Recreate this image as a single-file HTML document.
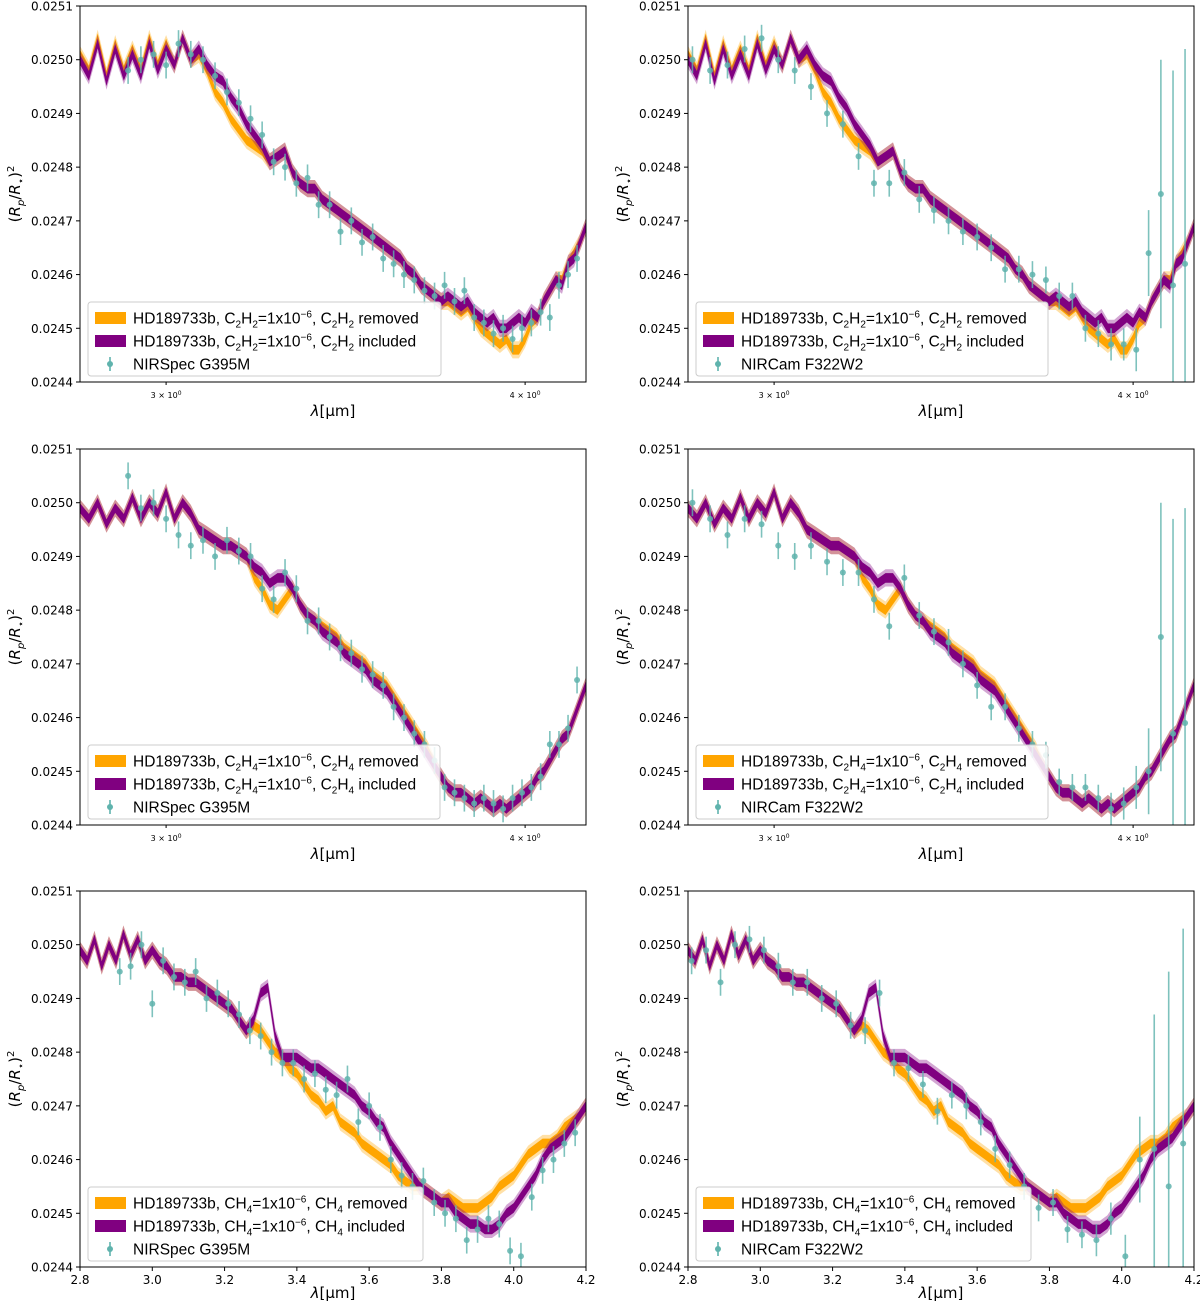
<!DOCTYPE html>
<html><head><meta charset="utf-8">
<style>
html,body{margin:0;padding:0;background:#fff;width:1200px;height:1306px;overflow:hidden;}
svg{display:block;font-family:"DejaVu Sans","Liberation Sans",sans-serif;}
</style></head>
<body>
<svg id="fig" width="1200" height="1306" viewBox="0 0 1200 1306" xmlns="http://www.w3.org/2000/svg"></svg>
<script>
// ---- data (values in units of 1e-5, i.e. 2500 = 0.02500) ----
const modelStart = 2.80, modelStep = 0.02;
const c2h2Included = [2500,2497,2503,2496,2502,2497,2501,2497,2503,2498,2502,2499,2504,2500,2502,2499,
 2497,2496,2493,2491,2488,2486,2484,2481,2482,2483,2479,2477,2476,2476,2474,2473,2472,2471,2470,2469,2468,2467,2466,2465,2464,2463,2461,2460,2458,2457,2456,2455,2456,2455,2454,2455,2453,2452,2451,2452,2450,2450,2451,2452,2451,2453,2452,2455,2457,2459,2458,2462,2463,2466,2469];
const c2h2Removed = [2501,2498,2504,2497,2503,2498,2502,2498,2504,2499,2503,2499,2504,2500,2501,2498,
 2494,2492,2489,2487,2485,2484,2483,2481,2482,2483,2479,2477,2476,2476,2474,2473,2472,2471,2470,2469,2468,2467,2466,2465,2464,2463,2461,2460,2458,2457,2456,2455,2455,2454,2453,2454,2452,2450,2449,2448,2447,2448,2446,2446,2448,2451,2452,2455,2457,2459,2459,2462,2464,2466,2469];
const c2h4Included = [2499,2497,2500,2496,2499,2497,2501,2497,2500,2498,2502,2497,2500,2498,
 2495,2494,2493,2492,2492,2491,2490,2488,2487,2485,2486,2486,2484,2481,2479,2478,2476,2475,2474,2472,2471,2470,2469,2467,2466,2465,2463,2461,2459,2457,2455,2453,2451,2449,2447,2446,2446,2445,2444,2445,2444,2443,2444,2443,2444,2445,2446,2447,2449,2450,2452,2454,2456,2457,2460,2463,2466];
const c2h4Removed = [2499,2497,2500,2496,2499,2497,2501,2497,2500,2498,2502,2497,2500,2498,
 2495,2494,2493,2492,2492,2491,2490,2486,2484,2481,2480,2482,2484,2481,2479,2478,2477,2476,2475,2473,2472,2471,2470,2468,2467,2466,2464,2462,2460,2458,2456,2454,2451,2449,2447,2446,2446,2445,2444,2445,2444,2443,2444,2443,2444,2445,2446,2447,2449,2450,2452,2454,2456,2457,2460,2463,2466];
const ch4Included = [2499,2497,2501,2496,2500,2497,2502,2498,2501,2497,2499,
 2497,2496,2494,2494,2493,2493,2492,2491,2490,2489,2488,2486,2484,2486,2491,2492,2483,2479,2479,2479,2478,2477,2477,2476,2475,2474,2473,2472,2470,2469,2467,2466,2463,2461,2459,2457,2455,2454,2453,2452,2452,2450,2449,2448,2448,2447,2447,2448,2450,2451,2453,2455,2457,2460,2462,2463,2464,2466,2468,2470];
const ch4Removed = [2499,2497,2501,2496,2500,2497,2502,2498,2501,2497,2499,
 2497,2496,2494,2494,2493,2493,2492,2491,2490,2489,2488,2486,2484,2485,2484,2482,2480,2479,2477,2476,2474,2472,2471,2469,2470,2467,2466,2465,2463,2462,2461,2460,2459,2457,2456,2455,2455,2454,2453,2452,2453,2452,2451,2451,2451,2452,2453,2455,2456,2457,2459,2461,2462,2463,2463,2464,2466,2467,2468,2470];

const nirspecLam = [2.91,2.94,2.97,3.00,3.03,3.06,3.09,3.12,3.15,3.18,3.21,3.24,3.27,3.30,3.33,3.36,3.39,3.42,3.45,3.48,3.51,3.54,3.57,3.60,3.63,3.66,3.69,3.72,3.75,3.78,3.81,3.84,3.87,3.90,3.93,3.96,3.99,4.02,4.05,4.08,4.11,4.14,4.17];
const nirspecErr = [2.5,2.5,2.5,2.5,2.5,2.5,2.5,2.5,2.5,2.5,2.5,2.5,2.5,2.5,2.5,2.5,2.5,2.5,2.5,2.5,2.5,2.5,2.5,2.5,2.5,2.5,2.5,2.5,2.5,2.5,2.5,2.5,2.5,2.5,2.5,2.5,2.5,2.5,2.5,2.5,2.5,2.5,2.5];
const nirspecC2H2 = [2498,2500,2501,2499,2503,2501,2500,2497,2494,2492,2489,2486,2481,2480,2477,2478,2473,2473,2468,2470,2466,2467,2463,2462,2460,2459,2457,2456,2458,2455,2457,2452,2451,2449,2450,2448,2450,2451,2453,2452,2458,2460,2463];
const nirspecC2H4 = [2505,2499,2500,2497,2494,2492,2493,2490,2493,2491,2490,2484,2482,2487,2484,2478,2478,2475,2473,2472,2469,2468,2466,2462,2460,2457,2455,2452,2447,2446,2445,2444,2445,2444,2443,2445,2446,2447,2449,2455,2455,2458,2467];
const nirspecCH4 = [2495,2496,2500,2489,2497,2494,2493,2495,2490,2491,2489,2487,2484,2483,2480,2478,2478,2475,2476,2473,2472,2475,2467,2470,2466,2460,2457,2455,2456,2452,2450,2449,2445,2447,2449,2448,2443,2442,2453,2458,2460,2463,2465];

const nircamLam = [2.81,2.85,2.89,2.93,2.97,3.01,3.05,3.09,3.13,3.17,3.21,3.25,3.29,3.33,3.37,3.41,3.45,3.49,3.53,3.57,3.61,3.65,3.69,3.73,3.77,3.81,3.85,3.89,3.93,3.97,4.01,4.05,4.09,4.13,4.17];
const nircamErr = [2.5,2.5,2.5,2.5,2.5,2.5,2.5,2.5,2.5,2.5,2.5,2.5,2.5,2.5,2.5,2.5,2.5,2.5,2.5,2.5,2.5,2.5,2.5,2.5,2.5,2.5,2.5,2.5,3,3,4,8,25,40,40];
const nircamC2H2 = [2500,2498,2499,2502,2504,2500,2498,2495,2490,2488,2482,2477,2477,2479,2474,2472,2470,2468,2467,2465,2461,2461,2460,2459,2456,2456,2450,2449,2447,2447,2446,2464,2475,2458,2462];
const nircamC2H4 = [2500,2497,2494,2497,2496,2492,2490,2492,2489,2487,2487,2482,2477,2486,2479,2476,2474,2470,2466,2462,2462,2458,2455,2453,2448,2447,2447,2445,2443,2444,2447,2450,2475,2457,2459];
const nircamCH4 = [2497,2499,2493,2500,2501,2499,2496,2493,2493,2490,2489,2485,2484,2491,2478,2477,2474,2469,2472,2470,2467,2462,2459,2455,2451,2452,2447,2446,2445,2449,2442,2460,2462,2455,2463];

const yTicks = [2440,2450,2460,2470,2480,2490,2500,2510];
const yTickLabels = ["0.0244","0.0245","0.0246","0.0247","0.0248","0.0249","0.0250","0.0251"];
const xTicksLinear = [2.8,3.0,3.2,3.4,3.6,3.8,4.0,4.2];
const xTickLinearLabels = ["2.8","3.0","3.2","3.4","3.6","3.8","4.0","4.2"];
const xTicksLog = [3,4];
const xTickLogLabels = ["3","4"];

// ---- layout ----
const NS="http://www.w3.org/2000/svg";
const svg=document.getElementById('fig');
const colX=[80,688], rowY=[6,449,891], W=506, H=376;
const XMIN=2.8, XMAX=4.2, YMIN=2440, YMAX=2510;
const ORANGE="#ffa500", PURPLE="#800080", TEAL="#5fb3ad";

function mk(tag, attrs, parent){
  const e=document.createElementNS(NS,tag);
  for(const k in attrs) e.setAttribute(k,attrs[k]);
  (parent||svg).appendChild(e);
  return e;
}
function xScale(l,col,isLog){
  const f = isLog ? Math.log(l/XMIN)/Math.log(XMAX/XMIN) : (l-XMIN)/(XMAX-XMIN);
  return colX[col]+f*W;
}
function yScale(v,row){ return rowY[row]+(YMAX-v)/(YMAX-YMIN)*H; }

const SUB=(d)=>"<tspan font-size='10' baseline-shift='-4'>"+d+"</tspan>";
const molName={c2h2:"C"+SUB(2)+"H"+SUB(2), c2h4:"C"+SUB(2)+"H"+SUB(4), ch4:"CH"+SUB(4)};

const panels=[
 {row:0,col:0,log:true,mol:'c2h2',inc:c2h2Included,rem:c2h2Removed,lam:nirspecLam,val:nirspecC2H2,err:nirspecErr,inst:"NIRSpec G395M",legW:353},
 {row:0,col:1,log:true,mol:'c2h2',inc:c2h2Included,rem:c2h2Removed,lam:nircamLam,val:nircamC2H2,err:nircamErr,inst:"NIRCam F322W2",legW:352},
 {row:1,col:0,log:true,mol:'c2h4',inc:c2h4Included,rem:c2h4Removed,lam:nirspecLam,val:nirspecC2H4,err:nirspecErr,inst:"NIRSpec G395M",legW:352},
 {row:1,col:1,log:true,mol:'c2h4',inc:c2h4Included,rem:c2h4Removed,lam:nircamLam,val:nircamC2H4,err:nircamErr,inst:"NIRCam F322W2",legW:352},
 {row:2,col:0,log:false,mol:'ch4',inc:ch4Included,rem:ch4Removed,lam:nirspecLam,val:nirspecCH4,err:nirspecErr,inst:"NIRSpec G395M",legW:335},
 {row:2,col:1,log:false,mol:'ch4',inc:ch4Included,rem:ch4Removed,lam:nircamLam,val:nircamCH4,err:nircamErr,inst:"NIRCam F322W2",legW:335}
];

const defs=mk('defs',{});
panels.forEach((p,i)=>{
  const x0=colX[p.col], y0=rowY[p.row];
  const cp=mk('clipPath',{id:'clip'+i},defs);
  mk('rect',{x:x0,y:y0,width:W,height:H},cp);

  const g=mk('g',{});
  
  
  const plot=mk('g',{'clip-path':'url(#clip'+i+')'},g);

  function band(arr,color,name){
    const lam=arr.map((_,k)=>modelStart+k*modelStep);
    [[1.6,0.35],[0.9,1]].forEach(([hw,op])=>{
      let up=lam.map((l,k)=>xScale(l,p.col,p.log).toFixed(1)+','+yScale(arr[k]+hw,p.row).toFixed(1));
      let dn=lam.map((l,k)=>xScale(l,p.col,p.log).toFixed(1)+','+yScale(arr[k]-hw,p.row).toFixed(1)).reverse();
      const poly=mk('polygon',{points:up.concat(dn).join(' '),fill:color,opacity:op},plot);
      
      
    });
  }
  band(p.rem,ORANGE,'model-removed-band');
  band(p.inc,PURPLE,'model-included-band');

  p.lam.forEach((l,k)=>{
    const cx=xScale(l,p.col,p.log), cy=yScale(p.val[k],p.row);
    const eb=mk('line',{x1:cx,x2:cx,y1:yScale(p.val[k]+p.err[k],p.row),y2:yScale(p.val[k]-p.err[k],p.row),stroke:TEAL,'stroke-width':1.6,opacity:0.8},plot);
    
    
    const pt=mk('circle',{cx:cx,cy:cy,r:3,fill:TEAL,opacity:0.85},plot);
    
    
  });

  const frame=mk('rect',{x:x0,y:y0,width:W,height:H,fill:'none',stroke:'#000','stroke-width':1},g);
  
  

  yTicks.forEach((v,k)=>{
    const y=yScale(v,p.row);
    mk('line',{x1:x0-4,x2:x0,y1:y,y2:y,stroke:'#000'},g);
    const t=mk('text',{x:x0-7,y:y+4.5,'font-size':12,'text-anchor':'end'},g);
    t.textContent=yTickLabels[k];
    
    
  });
  const yb=y0+H;
  if(p.log){
    xTicksLog.forEach((v,k)=>{
      const x=xScale(v,p.col,true);
      mk('line',{x1:x,x2:x,y1:yb,y2:yb+3,stroke:'#000'},g);
      const t=mk('text',{x:x,y:yb+16,'font-size':8,'text-anchor':'middle'},g);
      t.innerHTML=xTickLogLabels[k]+' × 10<tspan font-size="6" baseline-shift="3">0</tspan>';
      
      
    });
  } else {
    xTicksLinear.forEach((v,k)=>{
      const x=xScale(v,p.col,false);
      mk('line',{x1:x,x2:x,y1:yb,y2:yb+4,stroke:'#000'},g);
      const t=mk('text',{x:x,y:yb+17,'font-size':12,'text-anchor':'middle'},g);
      t.textContent=xTickLinearLabels[k];
      
      
    });
  }
  const xl=mk('text',{x:x0+W/2,y:yb+(p.log?34:31),'font-size':15,'text-anchor':'middle'},g);
  xl.innerHTML='<tspan font-style="italic">λ</tspan>[μm]';
  
  
  const yl=mk('text',{x:0,y:0,'font-size':15,'text-anchor':'middle',transform:'translate('+(x0-60)+','+(y0+H/2)+') rotate(-90)'},g);
  yl.innerHTML='(<tspan font-style="italic">R</tspan><tspan font-size="10" baseline-shift="-4" font-style="italic">p</tspan>/<tspan font-style="italic">R</tspan><tspan font-size="10" baseline-shift="-4">⋆</tspan>)<tspan font-size="10" baseline-shift="6">2</tspan>';
  
  

  // legend
  const lx=x0+8, ly=yb-80, lw=p.legW;
  const lg=mk('g',{},g);
  
  
  mk('rect',{x:lx,y:ly,width:lw,height:74,rx:3,fill:'#fff','fill-opacity':0.85,stroke:'#ccc'},lg);
  const m=molName[p.mol];
  const entries=[[ORANGE,'removed'],[PURPLE,'included']];
  entries.forEach(([c,w],k)=>{
    const yy=ly+16+k*23;
    const sw=mk('rect',{x:lx+7,y:yy-6,width:31,height:12,fill:c},lg);
    
    
    const t=mk('text',{x:lx+45,y:yy+5.5,'font-size':15.5,'font-family':'Liberation Sans, sans-serif'},lg);
    t.innerHTML='HD189733b, '+m+'=1x10<tspan font-size="10" baseline-shift="6">−6</tspan>, '+m+' '+w;
    
    
  });
  const yy=ly+62;
  mk('line',{x1:lx+22,x2:lx+22,y1:yy-7,y2:yy+7,stroke:TEAL,'stroke-width':1.6},lg);
  mk('circle',{cx:lx+22,cy:yy,r:3,fill:TEAL},lg);
  const t=mk('text',{x:lx+45,y:yy+5.5,'font-size':15.5,'font-family':'Liberation Sans, sans-serif'},lg);
  t.textContent=p.inst;
  
  
});
</script>
</body></html>
